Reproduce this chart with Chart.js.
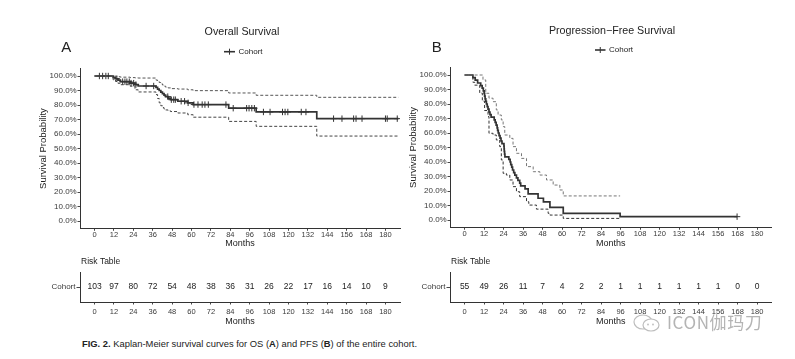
<!DOCTYPE html>
<html>
<head>
<meta charset="utf-8">
<script src="https://cdn.jsdelivr.net/npm/chart.js@4.4.1/dist/chart.umd.min.js"></script>
<style>
  html, body { margin: 0; padding: 0; background: #fff; width: 795px; height: 359px; overflow: hidden; }
  canvas { position: absolute; }
  #caption { position: absolute; left: 82px; top: 338px; font: 9.4px "Liberation Sans", Arial, sans-serif; color: #222; white-space: nowrap; line-height: 12px; }
  #caption b { font-weight: bold; }
  #wm { position: absolute; left: 633px; top: 311px; height: 22px; white-space: nowrap; color: #b4b4b4; }
  #wm svg { position: absolute; left: 0; top: 3px; }
  #wm span { position: absolute; left: 34px; top: 0; font: 17px "Noto Sans CJK SC", sans-serif; letter-spacing: 0.6px; line-height: 22px; }
</style>
</head>
<body>
<canvas id="osKM" width="405" height="250" style="left:0;top:0"></canvas>
<canvas id="pfsKM" width="390" height="250" style="left:405px;top:0"></canvas>
<canvas id="osRisk" width="405" height="85" style="left:0;top:250px"></canvas>
<canvas id="pfsRisk" width="390" height="85" style="left:405px;top:250px"></canvas>
<div id="caption"><b>FIG. 2.</b> Kaplan-Meier survival curves for OS (<b>A</b>) and PFS (<b>B</b>) of the entire cohort.</div>
<div id="wm">
  <svg width="28" height="18" viewBox="0 0 28 18"><ellipse cx="10" cy="8" rx="9" ry="7" fill="none" stroke="#bdbdbd" stroke-width="1.2"/><ellipse cx="18" cy="11" rx="8" ry="6" fill="#fff" stroke="#bdbdbd" stroke-width="1.2"/><circle cx="15" cy="10.5" r="0.9" fill="#bdbdbd"/><circle cx="20" cy="10.5" r="0.9" fill="#bdbdbd"/></svg>
  <span>ICON伽玛刀</span>
</div>
<script>
// ---------------- data ----------------
const monthTicks = [0, 12, 24, 36, 48, 60, 72, 84, 96, 108, 120, 132, 144, 156, 168, 180];
const probTicks = [0, 0.1, 0.2, 0.3, 0.4, 0.5, 0.6, 0.7, 0.8, 0.9, 1.0];
const groupLabels = ['Cohort'];

// Overall survival (A)
const osTime  = [0, 11.5, 13, 14.5, 16, 22, 25, 27, 38, 39, 40, 41, 42, 43, 44, 45.5, 47, 51.5, 57.7, 61, 83, 100, 137.5, 188];
const osSurv  = [1, .990, .981, .971, .961, .951, .941, .931, .921, .910, .900, .889, .879, .868, .858, .847, .837, .826, .815, .803, .778, .752, .706, .706];
const osUpper = [1, 1, .998, .995, .992, .989, .987, .986, .972, .963, .955, .946, .938, .930, .923, .918, .913, .910, .905, .899, .883, .867, .853, .853];
const osLower = [1, .974, .962, .950, .940, .930, .905, .890, .872, .845, .815, .795, .782, .772, .766, .760, .755, .745, .733, .716, .687, .653, .586, .586];
const osCensor = [3, 5, 7, 8.5, 13.8, 17.4, 18.8, 20, 21.5, 22.6, 24.2, 25.6, 31.9, 36.6, 45.3, 47.5, 49, 50, 53.6, 55.7, 57.9, 61.5, 64, 66.6, 68.3, 70.4, 81.3, 85.8, 94.1, 95.6, 97.3, 98.9, 104.5, 108.6, 116.3, 117.9, 119.6, 127.9, 130.8, 147.9, 153.1, 160.3, 161.8, 165.5, 180, 181.1, 187.3];
const osRisk = [103, 97, 80, 72, 54, 48, 38, 36, 31, 26, 22, 17, 16, 14, 10, 9];

// Progression-free survival (B)
const pfsTime = [0, 5.1, 6.5, 8, 9.9, 10.8, 11.5, 12, 12.3, 12.6, 13, 13.4, 13.9, 14.4, 15, 15.6, 16.3, 18.2, 18.8, 19.4, 20, 20.3, 20.7, 21.2, 21.8, 22.4, 23, 24.2, 24.3, 24.4, 24.6, 24.8, 27.2, 28, 28.4, 29, 29.5, 30.2, 30.9, 31.9, 32.8, 33.9, 34.5, 37.2, 39.1, 45.2, 48.5, 52.5, 60.7, 95.7, 167.7];
const pfsSurv = [1, .982, .964, .945, .927, .909, .891, .873, .855, .836, .818, .800, .782, .764, .745, .727, .709, .691, .673, .655, .636, .618, .600, .582, .564, .545, .527, .509, .491, .473, .455, .436, .418, .400, .382, .364, .345, .327, .309, .291, .273, .255, .236, .215, .180, .150, .125, .087, .046, .023, .023];
const pfsUpperTime = [0, 11.3, 13, 15, 17.5, 19.5, 20.6, 22.6, 23.7, 24.7, 27.8, 29.8, 31.9, 35, 38.1, 42.2, 46.3, 50.4, 54.5, 58.6, 60.7, 95.7];
const pfsUpper     = [1, .966, .874, .840, .816, .759, .724, .690, .644, .586, .563, .506, .460, .425, .368, .333, .310, .276, .241, .207, .166, .166];
const pfsLowerTime = [0, 5.1, 6.2, 9.3, 10.9, 12.3, 14.4, 15, 17.5, 19.5, 21.6, 22.6, 23.7, 25.7, 27.8, 29.8, 31.9, 33.9, 38.1, 39.5, 44.2, 51.4, 52.5, 60.7, 95.7];
const pfsLower     = [1, .950, .930, .875, .820, .755, .713, .598, .586, .552, .506, .414, .322, .310, .276, .230, .195, .161, .126, .103, .075, .046, .034, .011, .011];
const pfsCensor = [167.7];
const pfsRisk = [55, 49, 26, 11, 7, 4, 2, 2, 1, 1, 1, 1, 1, 1, 0, 0];

// ---------------- helpers ----------------
const FONT = '"Liberation Sans", Arial, Helvetica, sans-serif';
Chart.defaults.font.family = FONT;
Chart.defaults.color = '#333';

function stepValue(times, vals, t) {
  let v = vals[0];
  for (let i = 0; i < times.length; i++) if (times[i] <= t) v = vals[i];
  return v;
}
const pts = (ts, vs) => ts.map((t, i) => ({ x: t, y: vs[i] }));

const overlay = {
  id: 'overlay',
  afterDraw(chart, args, opts) {
    const ctx = chart.ctx;
    (opts.items || []).forEach(it => {
      ctx.save();
      ctx.font = it.size + 'px ' + FONT;
      ctx.fillStyle = it.color || '#222';
      ctx.textAlign = it.align || 'center';
      ctx.textBaseline = 'middle';
      ctx.fillText(it.text, it.x, it.y);
      ctx.restore();
    });
    if (opts.legend) {
      const L = opts.legend;
      ctx.save();
      ctx.strokeStyle = '#333';
      ctx.lineWidth = 1.6;
      ctx.beginPath(); ctx.moveTo(L.x1, L.y); ctx.lineTo(L.x2, L.y); ctx.stroke();
      ctx.lineWidth = 1;
      const mx = (L.x1 + L.x2) / 2;
      ctx.beginPath(); ctx.moveTo(mx, L.y - 3); ctx.lineTo(mx, L.y + 3); ctx.stroke();
      ctx.font = '8px ' + FONT; ctx.fillStyle = '#222';
      ctx.textAlign = 'left'; ctx.textBaseline = 'middle';
      ctx.fillText(L.text, L.x2 + 3.5, L.y);
      ctx.restore();
    }
    if (opts.riskValues) {
      const meta = chart.getDatasetMeta(0);
      ctx.save();
      ctx.font = '8.5px ' + FONT; ctx.fillStyle = '#222';
      ctx.textAlign = 'center'; ctx.textBaseline = 'middle';
      meta.data.forEach((p, i) => ctx.fillText(String(opts.riskValues[i]), p.x, p.y));
      ctx.restore();
    }
  }
};

function xScale(h, tickPad, titleBottom) {
  return {
    type: 'linear', min: -9, max: 189,
    afterBuildTicks: s => { s.ticks = monthTicks.map(v => ({ value: v })); },
    afterFit: s => { s.height = h; },
    grid: { drawOnChartArea: false, color: '#333', tickLength: 2.5, tickWidth: 0.9 },
    border: { display: true, color: '#333', width: 1 },
    ticks: { font: { size: 7.5 }, color: '#3a3a3a', padding: tickPad, maxRotation: 0, autoSkip: false, callback: v => String(v) },
    title: { display: true, text: 'Months', font: { size: 9 }, color: '#222', padding: { top: 0, bottom: titleBottom } }
  };
}

function kmChart(id, o) {
  return new Chart(document.getElementById(id), {
    type: 'line',
    data: {
      datasets: [
        { data: pts(o.upperT, o.upper), stepped: 'before', borderColor: o.upperColor, borderWidth: 1, borderDash: [3, 2], pointRadius: 0, fill: false },
        { data: pts(o.lowerT, o.lower), stepped: 'before', borderColor: o.lowerColor, borderWidth: 1, borderDash: [3, 2], pointRadius: 0, fill: false },
        { data: pts(o.time, o.surv), stepped: 'before', borderColor: '#333', borderWidth: 1.7, pointRadius: 0, fill: false },
        { data: o.censor.map(t => ({ x: t, y: stepValue(o.time, o.surv, t) })), showLine: false,
          pointStyle: 'cross', pointRadius: 3.2, pointBorderColor: '#333', pointBorderWidth: 1, pointBackgroundColor: '#333' }
      ]
    },
    options: {
      responsive: false, animation: false, devicePixelRatio: 1,
      layout: { padding: { top: o.top, right: o.padRight, left: 0, bottom: 0 } },
      plugins: { legend: { display: false }, tooltip: { enabled: false }, overlay: o.overlay },
      scales: {
        x: xScale(o.xAxisH, 0, 1.5),
        y: {
          type: 'linear', min: -0.05, max: 1.05,
          afterBuildTicks: s => { s.ticks = probTicks.map(v => ({ value: v })); },
          afterFit: s => { s.width = o.yAxisW; },
          grid: { drawOnChartArea: false, color: '#333', tickLength: 2.5, tickWidth: 0.9 },
          border: { display: true, color: '#333', width: 1 },
          ticks: { font: { size: 8 }, color: '#3a3a3a', padding: 0.8, callback: v => (v * 100).toFixed(1) + '%' },
          title: { display: true, text: 'Survival Probability', font: { size: 9.5 }, color: '#222', padding: { top: o.yTitlePad, bottom: 0 } }
        }
      }
    },
    plugins: [overlay]
  });
}

function riskChart(id, o) {
  return new Chart(document.getElementById(id), {
    type: 'line',
    data: { datasets: [{ data: monthTicks.map(m => ({ x: m, y: groupLabels[0] })), showLine: false, pointRadius: 0 }] },
    options: {
      responsive: false, animation: false, devicePixelRatio: 1,
      layout: { padding: { top: 22, right: o.padRight, left: 0, bottom: 0 } },
      plugins: { legend: { display: false }, tooltip: { enabled: false }, overlay: o.overlay },
      scales: {
        x: xScale(33, 3, 7.6),
        y: {
          type: 'category', labels: groupLabels, offset: true,
          afterFit: s => { s.width = o.yAxisW; },
          grid: { drawOnChartArea: false, color: '#333', tickLength: 3.5, tickWidth: 0.9 },
          border: { display: true, color: '#333', width: 1 },
          ticks: { font: { size: 8 }, color: '#3a3a3a', padding: 1 }
        }
      }
    },
    plugins: [overlay]
  });
}

kmChart('osKM', {
  time: osTime, surv: osSurv, upperT: osTime, upper: osUpper, lowerT: osTime, lower: osLower, censor: osCensor,
  upperColor: '#555', lowerColor: '#444',
  top: 68.75, padRight: 5, yAxisW: 80, xAxisH: 21.7, yTitlePad: 37.3,
  overlay: {
    items: [
      { text: 'Overall Survival', x: 242, y: 32.3, size: 10.7 },
      { text: 'A', x: 66.3, y: 48.3, size: 15 }
    ],
    legend: { x1: 224, x2: 235, y: 51.7, text: 'Cohort' }
  }
});

kmChart('pfsKM', {
  time: pfsTime, surv: pfsSurv, upperT: pfsUpperTime, upper: pfsUpper, lowerT: pfsLowerTime, lower: pfsLower, censor: pfsCensor,
  upperColor: '#777', lowerColor: '#333',
  top: 67.75, padRight: 23.3, yAxisW: 45, xAxisH: 22.75, yTitlePad: 2.3,
  overlay: {
    items: [
      { text: 'Progression\u2212Free Survival', x: 207, y: 30.7, size: 10.7 },
      { text: 'B', x: 31.7, y: 48.3, size: 15 }
    ],
    legend: { x1: 190, x2: 200.5, y: 50, text: 'Cohort' }
  }
});

riskChart('osRisk', {
  padRight: 5, yAxisW: 80,
  overlay: { items: [{ text: 'Risk Table', x: 81, y: 11.7, size: 8.5, align: 'left' }], riskValues: osRisk }
});

riskChart('pfsRisk', {
  padRight: 23.3, yAxisW: 45,
  overlay: { items: [{ text: 'Risk Table', x: 46, y: 11.7, size: 8.5, align: 'left' }], riskValues: pfsRisk }
});
</script>
</body>
</html>
